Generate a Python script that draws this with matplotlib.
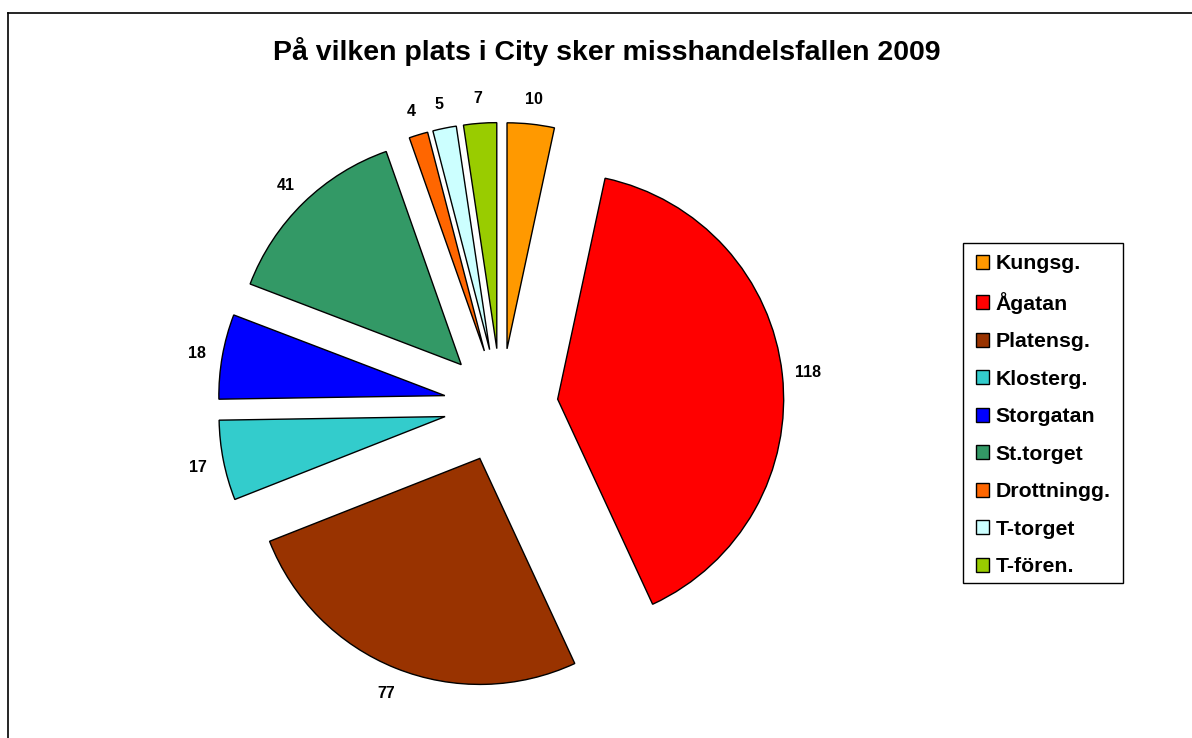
import matplotlib
matplotlib.use("Agg")
import matplotlib.pyplot as plt
from matplotlib.lines import Line2D
from matplotlib.patches import Rectangle

plt.rcParams['font.family'] = ['Liberation Sans', 'DejaVu Sans']

title = "På vilken plats i City sker misshandelsfallen 2009"
categories = ["Kungsg.", "Ågatan", "Platensg.", "Klosterg.", "Storgatan",
              "St.torget", "Drottningg.", "T-torget", "T-fören."]
values = [10, 118, 77, 17, 18, 41, 4, 5, 7]
colors = ["#FF9900", "#FF0000", "#993300", "#33CCCC", "#0000FF",
          "#339966", "#FF6600", "#CCFFFF", "#99CC00"]

W, H = 1192, 738
fig = plt.figure(figsize=(W / 100, H / 100), dpi=100)
ax = fig.add_axes([0, 0, 1, 1])

# pie geometry in pixels
cx, cy, r = 501, 738 - 405.5, 226.0
total = sum(values)

wedges, texts, autotexts = ax.pie(
    values, colors=colors, startangle=90, counterclock=False,
    explode=[57 / r] * len(values), radius=1.0,
    autopct=lambda p: f"{round(p * total / 100):d}", pctdistance=1.115,
    wedgeprops=dict(edgecolor="black", linewidth=1.0),
    textprops=dict(fontsize=11.5, fontweight="bold", color="black"))
for t in autotexts:
    t.set_va("center_baseline")

ax.set_aspect("auto")
ax.set_xlim(-cx / r, (W - cx) / r)
ax.set_ylim(-cy / r, (H - cy) / r)
ax.axis("off")

fig.text(607 / W, 1 - 52 / H, title, ha="center", va="center",
         fontsize=20.5, fontweight="bold")

leg = fig.legend(wedges, categories, loc="upper left",
                 bbox_to_anchor=(963 / W, 1 - 241.5 / H),
                 bbox_transform=fig.transFigure, borderaxespad=0,
                 prop=dict(size=15.3, weight="bold"), handlelength=0.62,
                 handleheight=0.62, handletextpad=0.33, labelspacing=0.87,
                 borderpad=0.6, fancybox=False, frameon=False)

# legend box
lx0, ly0, lx1, ly1 = 963, 242.5, 1123, 582.7
fig.add_artist(Rectangle((lx0 / W, 1 - ly1 / H), (lx1 - lx0) / W,
                         (ly1 - ly0) / H, transform=fig.transFigure,
                         facecolor="none", edgecolor="black", lw=1.0))

# outer frame (top and left edges visible)
fig.add_artist(Line2D([8 / W, 1], [1 - 12.5 / H, 1 - 12.5 / H],
                      transform=fig.transFigure, color="black", lw=1.2))
fig.add_artist(Line2D([8 / W, 8 / W], [0, 1 - 12.5 / H],
                      transform=fig.transFigure, color="black", lw=1.2))

fig.savefig("out.png", dpi=100)
